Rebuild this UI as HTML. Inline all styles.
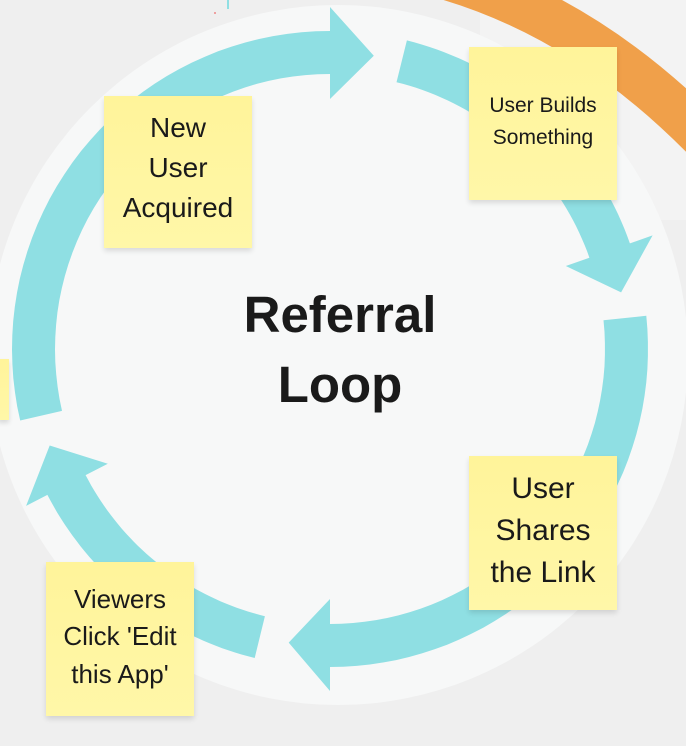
<!DOCTYPE html>
<html><head><meta charset="utf-8"><style>
html,body{margin:0;padding:0;}
body{width:686px;height:746px;overflow:hidden;background:#efefef;position:relative;font-family:"Liberation Sans","DejaVu Sans",sans-serif;}
svg{position:absolute;left:0;top:0;}
.n{position:absolute;background:linear-gradient(#fff49a,#fff7a8);box-shadow:0 3px 5px rgba(0,0,0,0.12);color:#1a1a1a;text-align:center;}
.t{position:absolute;left:0;right:0;text-align:center;white-space:nowrap;}
</style></head><body>
<svg width="686" height="746" viewBox="0 0 686 746">
<rect x="480" y="0" width="206" height="220" fill="#f3f3f3"/>
<path d="M440,-25 Q600,20 730,165" stroke="#f0a04a" stroke-width="46" fill="none"/>
<circle cx="338" cy="355" r="350" fill="#f7f8f8"/>
<line x1="228" y1="0" x2="228" y2="9" stroke="#90dfe3" stroke-width="2"/>
<circle cx="215" cy="13" r="1" fill="#e88"/>
<g id="arrows" fill="#8fdfe3"></g>
</svg>
<script>
(function(){
var cx=330,cy=349,ri=275,ro=318,hi=250,ho=342;
var segs=[[167,270,278.5],[284,340.6,349],[354,450,458],[463.7,512.7,521]];
function p(r,a){a=a*Math.PI/180;return (cx+r*Math.cos(a)).toFixed(1)+","+(cy+r*Math.sin(a)).toFixed(1);}
var g=document.getElementById('arrows'),h='';
segs.forEach(function(s){
var a0=s[0],a1=s[1],t=s[2],pts=[],i,n=40;
for(i=0;i<=n;i++)pts.push(p(ro,a0+(a1-a0)*i/n));
pts.push(p(ho,a1));pts.push(p((ri+ro)/2,t));pts.push(p(hi,a1));
for(i=n;i>=0;i--)pts.push(p(ri,a0+(a1-a0)*i/n));
h+='<polygon points="'+pts.join(' ')+'"/>';
});
g.innerHTML=h;
})();
</script>
<div class="n" style="left:-2px;top:359px;width:11px;height:61px;"></div>
<div class="n" style="left:104px;top:96px;width:148px;height:152px;font-size:28px;">
<div class="t" style="top:16px">New</div><div class="t" style="top:56px">User</div><div class="t" style="top:96px">Acquired</div></div>
<div class="n" style="left:469px;top:47px;width:148px;height:153px;font-size:21px;">
<div class="t" style="top:47px">User Builds</div><div class="t" style="top:79px">Something</div></div>
<div class="n" style="left:469px;top:456px;width:148px;height:154px;font-size:30px;">
<div class="t" style="top:16px">User</div><div class="t" style="top:58px">Shares</div><div class="t" style="top:100px">the Link</div></div>
<div class="n" style="left:46px;top:562px;width:148px;height:154px;font-size:26px;">
<div class="t" style="top:22px">Viewers</div><div class="t" style="top:59px">Click 'Edit</div><div class="t" style="top:97px">this App'</div></div>
<div style="position:absolute;left:140px;width:400px;top:280px;text-align:center;font-weight:bold;font-size:51px;color:#1a1a1a;line-height:70px;">Referral<br>Loop</div>
</body></html>
